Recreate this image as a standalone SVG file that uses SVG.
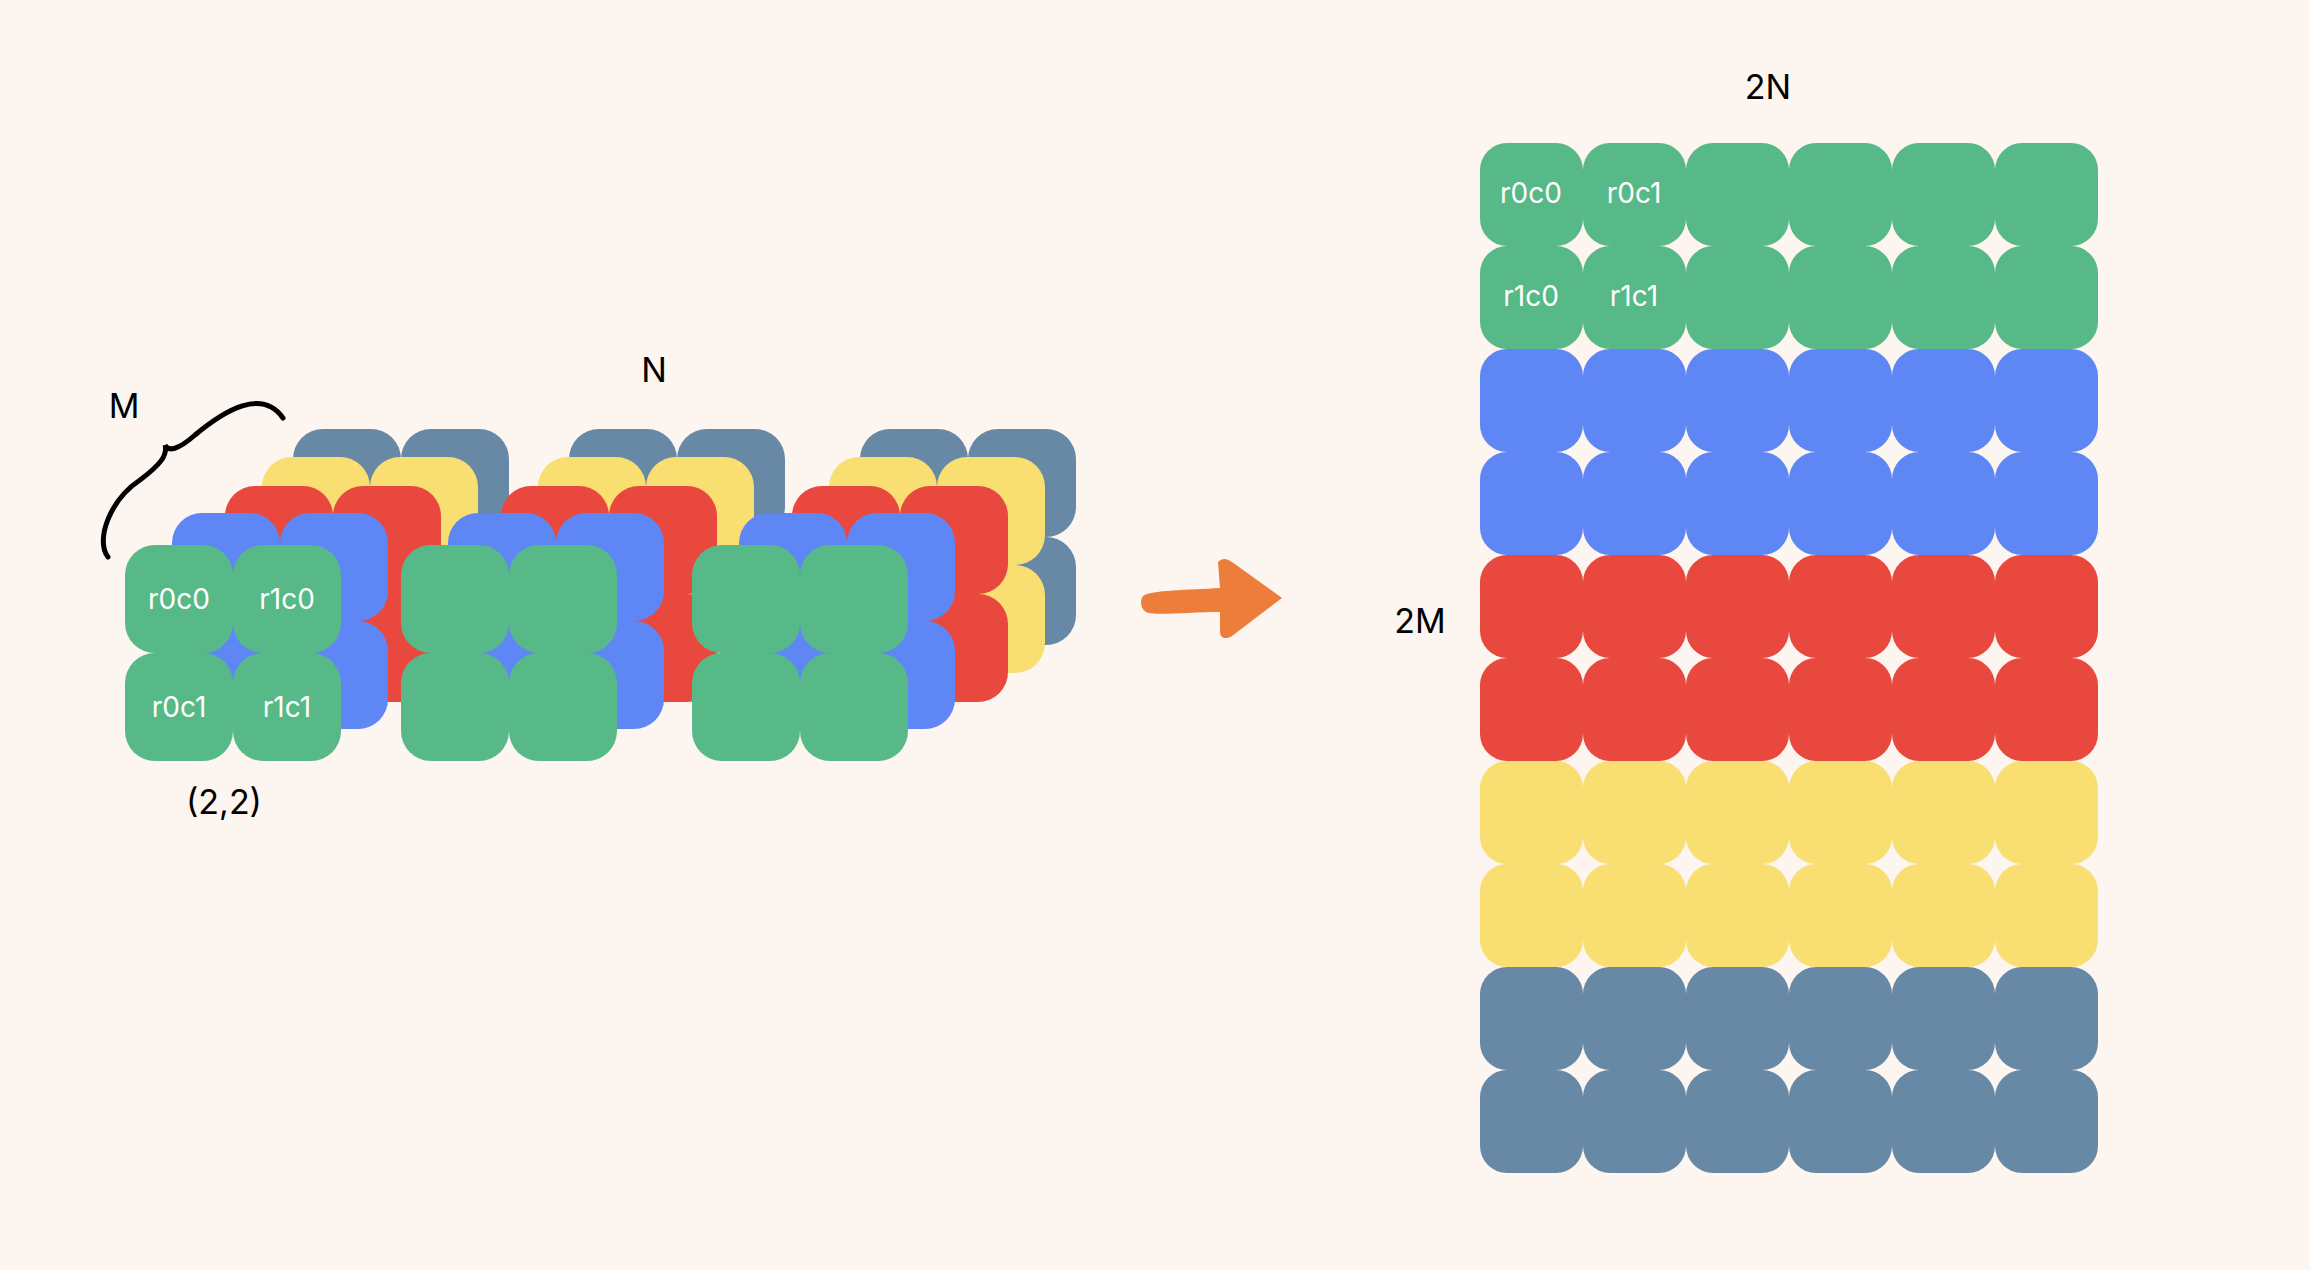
<svg xmlns="http://www.w3.org/2000/svg" width="2310" height="1270" viewBox="0 0 2310 1270">
<style>
.g{fill:#57B987}.b{fill:#5E87F5}.r{fill:#E9483E}.y{fill:#F9DE72}.s{fill:#6889A6}
.t{font-family:Inter,"Noto Sans",sans-serif;fill:#000;font-size:34px;text-anchor:middle}
.w{font-family:Inter,"Noto Sans",sans-serif;fill:#fff;font-size:28px;text-anchor:middle;dominant-baseline:middle}
</style>
<defs>
<rect id="c" width="108" height="108" rx="30"/>
<rect id="k" width="103" height="103" rx="27"/>
<g id="L"><use href="#c" x="0" y="0"/><use href="#c" x="108" y="0"/><use href="#c" x="0" y="108"/><use href="#c" x="108" y="108"/></g>
<g id="S"><use href="#L" class="s" x="168" y="-116"/><use href="#L" class="y" x="137" y="-88"/><use href="#L" class="r" x="100" y="-59"/><use href="#L" class="b" x="47" y="-32"/><use href="#L" class="g"/></g>
<g id="R"><use href="#k" x="0"/><use href="#k" x="103"/><use href="#k" x="206"/><use href="#k" x="309"/><use href="#k" x="412"/><use href="#k" x="515"/></g>
</defs>
<rect width="2310" height="1270" fill="#FDF5EF"/>
<g id="stack1"><use href="#S" x="125" y="545"/></g>
<g id="stack2"><use href="#S" x="401" y="545"/></g>
<g id="stack3"><use href="#S" x="692" y="545"/></g>
<g id="labels-left">
<text class="w" x="179" y="601">r0c0</text><text class="w" x="287" y="601">r1c0</text>
<text class="w" x="179" y="709">r0c1</text><text class="w" x="287" y="709">r1c1</text>
<text class="t" x="224" y="814">(2,2)</text>
<text class="t" x="124" y="418">M</text>
<text class="t" x="654" y="382">N</text>
<path d="M108,557 C95,540 110,500 140,480 C160,465 168,455 165,445 C168,452 178,450 195,435 C225,410 262,388 283,418" fill="none" stroke="#000" stroke-width="5" stroke-linecap="round"/>
</g>
<g id="connectors">
<path d="M1143,596 C1150,590 1190,590 1220,588 L1218,562 C1222,558 1226,558 1232,562 L1282,598 L1232,636 C1226,640 1220,638 1220,632 L1220,612 C1190,612 1152,616 1146,612 C1140,608 1140,600 1143,596 Z" fill="#ED7D3A"/>
</g>
<g id="grid">
<use href="#R" class="g" x="1480" y="143"/><use href="#R" class="g" x="1480" y="246"/>
<use href="#R" class="b" x="1480" y="349"/><use href="#R" class="b" x="1480" y="452"/>
<use href="#R" class="r" x="1480" y="555"/><use href="#R" class="r" x="1480" y="658"/>
<use href="#R" class="y" x="1480" y="761"/><use href="#R" class="y" x="1480" y="864"/>
<use href="#R" class="s" x="1480" y="967"/><use href="#R" class="s" x="1480" y="1070"/>
<text class="w" x="1531" y="195">r0c0</text><text class="w" x="1634" y="195">r0c1</text>
<text class="w" x="1531" y="298">r1c0</text><text class="w" x="1634" y="298">r1c1</text>
<text class="t" x="1768" y="99">2N</text>
<text class="t" x="1420" y="633">2M</text>
</g>
</svg>
